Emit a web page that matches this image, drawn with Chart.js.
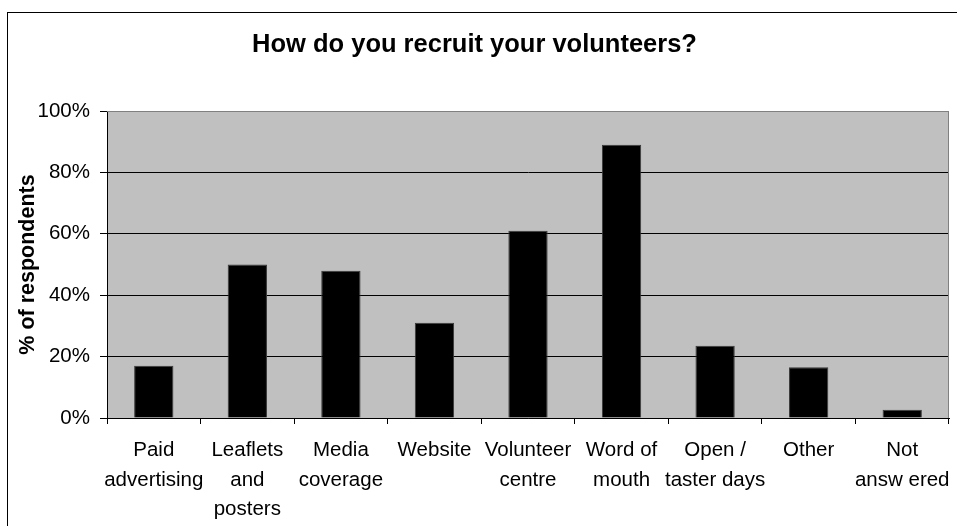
<!DOCTYPE html>
<html>
<head>
<meta charset="utf-8">
<title>How do you recruit your volunteers?</title>
<script src="https://cdn.jsdelivr.net/npm/chart.js@4"></script>
<style>
    html, body { margin: 0; padding: 0; background: #fff; }
    #wrap { width: 957px; height: 526px; position: relative; }
</style>
</head>
<body>
<div id="wrap"><canvas id="recruitChart"></canvas></div>
<script>
// Recruitment methods and share of respondents (%)
const categories = [
    ['Paid', 'advertising'],
    ['Leaflets', 'and', 'posters'],
    ['Media', 'coverage'],
    ['Website'],
    ['Volunteer', 'centre'],
    ['Word of', 'mouth'],
    ['Open /', 'taster days'],
    ['Other'],
    ['Not', 'answ ered']
];
const respondents = [17, 50, 48, 31, 61, 89, 23.5, 16.5, 2.7];
const yTicks = [0, 20, 40, 60, 80, 100];

const FONT = "'Liberation Sans', Arial, sans-serif";

// grey plot background, plot frame and the outer chart border
const frame = {
    id: 'frame',
    beforeDraw(chart) {
        const { ctx, chartArea: a } = chart;
        ctx.save();
        ctx.fillStyle = '#fff';
        ctx.fillRect(0, 0, chart.width, chart.height);
        ctx.strokeStyle = '#000';
        ctx.lineWidth = 1;
        ctx.strokeRect(7.5, 12.5, chart.width + 20, chart.height + 20);
        ctx.fillStyle = '#c0c0c0';
        ctx.fillRect(a.left, a.top, a.right - a.left, a.bottom - a.top);
        ctx.restore();
    },
    afterDraw(chart) {
        const { ctx, chartArea: a } = chart;
        ctx.save();
        ctx.strokeStyle = '#808080';
        ctx.lineWidth = 1;
        ctx.beginPath();
        ctx.moveTo(a.left, a.top + 0.5);
        ctx.lineTo(a.right - 0.5, a.top + 0.5);
        ctx.lineTo(a.right - 0.5, a.bottom);
        ctx.stroke();
        ctx.restore();
    }
};

new Chart(document.getElementById('recruitChart'), {
    type: 'bar',
    data: {
        labels: categories,
        datasets: [{
            data: respondents,
            backgroundColor: '#000',
            borderColor: '#3a3a3a',
            borderWidth: 1,
            categoryPercentage: 1,
            barPercentage: 0.42
        }]
    },
    options: {
        responsive: true,
        maintainAspectRatio: false,
        animation: false,
        layout: { padding: { left: 0, right: 8, top: 0, bottom: 0 } },
        plugins: {
            legend: { display: false },
            tooltip: { enabled: false },
            title: {
                display: true,
                text: 'How do you recruit your volunteers?',
                color: '#000',
                font: { family: FONT, size: 25.5, weight: 'bold', lineHeight: 1.2 },
                padding: { top: 30, bottom: 50.4 }
            }
        },
        scales: {
            x: {
                offset: true,
                grid: {
                    offset: true,
                    drawOnChartArea: false,
                    color: '#000',
                    tickLength: 6
                },
                border: { color: '#000', width: 1 },
                ticks: {
                    color: '#000',
                    maxRotation: 0,
                    autoSkip: false,
                    padding: 11,
                    font: { family: FONT, size: 20.5, lineHeight: 1.46 }
                },
                afterFit(scale) {
                    scale.height = 108;
                    // the last label may run past the plot edge
                    scale.paddingLeft = 0;
                    scale.paddingRight = 0;
                }
            },
            y: {
                min: 0,
                max: 100,
                afterBuildTicks(scale) {
                    scale.ticks = yTicks.map(v => ({ value: v }));
                },
                grid: {
                    color: ctx => (ctx.tick && ctx.tick.value === 100 ? '#808080' : '#000'),
                    tickColor: '#000',
                    tickLength: 7
                },
                border: { color: '#000', width: 1 },
                ticks: {
                    color: '#000',
                    padding: 10,
                    font: { family: FONT, size: 20.5 },
                    callback: v => v + '%'
                },
                title: {
                    display: true,
                    text: '% of respondents',
                    color: '#000',
                    font: { family: FONT, size: 21.5, weight: 'bold', lineHeight: 1.2 },
                    padding: { top: 15, bottom: 0 }
                },
                afterFit(scale) { scale.width = 107; }
            }
        }
    },
    plugins: [frame]
});
</script>
</body>
</html>
